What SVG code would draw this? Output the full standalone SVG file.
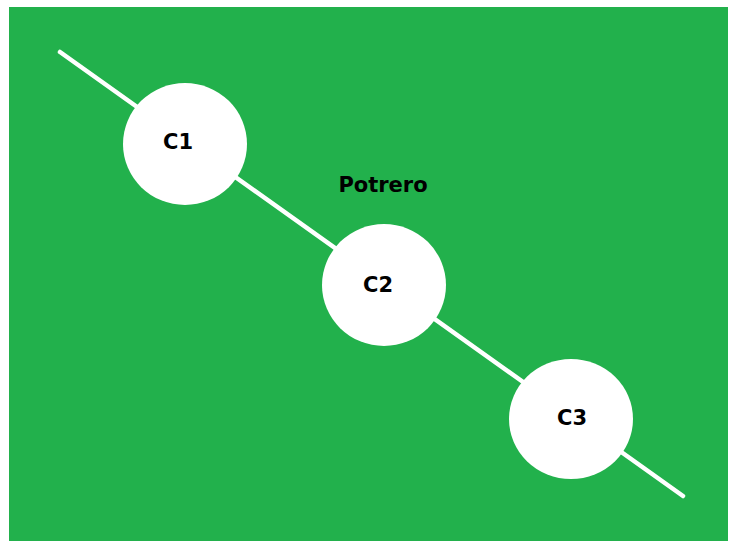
<svg xmlns="http://www.w3.org/2000/svg" width="730" height="545" viewBox="0 0 730 545">
<style>
.lbl{font-family:"DejaVu Sans",Verdana,sans-serif;font-weight:bold;font-size:21px;fill:#000;text-anchor:middle}
.node{fill:#fff}
</style>
<rect x="0" y="0" width="730" height="545" fill="#fff"/>
<rect x="9" y="7" width="719" height="534" fill="#22b14c"/>
<g id="connectors">
<line x1="60" y1="52" x2="683" y2="496" stroke="#fff" stroke-width="4.5" stroke-linecap="round"/>
</g>
<text class="lbl" x="383" y="192">Potrero</text>
<g id="C1"><ellipse class="node" cx="185" cy="144" rx="62" ry="61"/><text class="lbl" x="178" y="149">C1</text></g>
<g id="C2"><ellipse class="node" cx="384" cy="285" rx="62" ry="61"/><text class="lbl" x="378" y="292">C2</text></g>
<g id="C3"><ellipse class="node" cx="571" cy="419" rx="62" ry="60"/><text class="lbl" x="572" y="425">C3</text></g>
</svg>
